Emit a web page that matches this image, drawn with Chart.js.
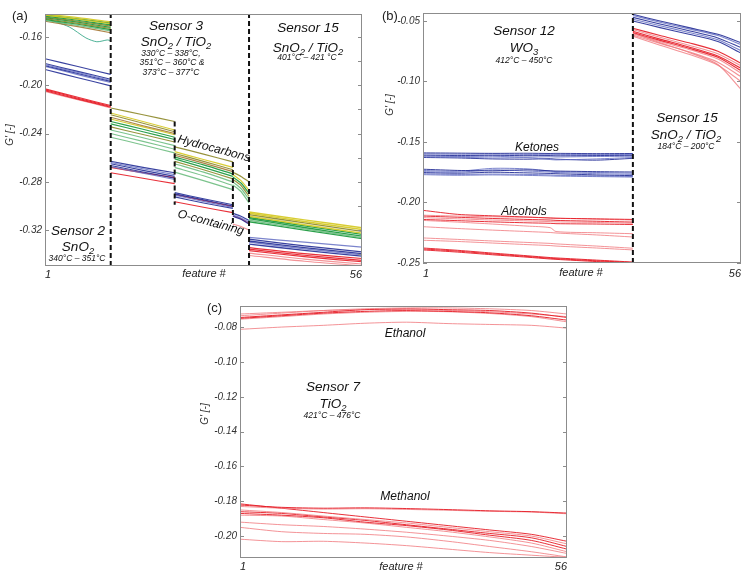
<!DOCTYPE html>
<html><head><meta charset="utf-8">
<script src="https://cdn.jsdelivr.net/npm/chart.js@4.4.1/dist/chart.umd.min.js"></script>
<style>
body{margin:0;width:749px;height:576px;background:#fff;position:relative;overflow:hidden;font-family:Arial,"Liberation Sans",sans-serif;}
.cv{position:absolute;}
.t{position:absolute;white-space:nowrap;font-style:italic;color:#111;transform:translate(-50%,-50%);line-height:1;}
.t sub{font-size:70%;vertical-align:-0.25em;line-height:0;}
.big{font-size:13.5px;}
.sm{font-size:8.5px;}
.mid{font-size:12px;}
.ax{font-size:10px;color:#333;}
.fx{font-size:11px;color:#222;}
.pl{position:absolute;font-size:13px;color:#222;line-height:1;}
</style></head><body>
<canvas id="ca" class="cv" width="375" height="285" style="left:0;top:0"></canvas>
<canvas id="cb" class="cv" width="371" height="285" style="left:378px;top:0"></canvas>
<canvas id="cc" class="cv" width="390" height="286" style="left:190px;top:290px"></canvas>

<div class="pl" style="left:12px;top:9px">(a)</div>
<div class="pl" style="left:382px;top:9px">(b)</div>
<div class="pl" style="left:207px;top:301px">(c)</div>

<div class="t ax" style="left:10px;top:135px;transform:translate(-50%,-50%) rotate(-90deg)">G' [-]</div>
<div class="t ax" style="left:390px;top:105px;transform:translate(-50%,-50%) rotate(-90deg)">G' [-]</div>
<div class="t ax" style="left:205px;top:414px;transform:translate(-50%,-50%) rotate(-90deg)">G' [-]</div>

<div class="t fx" style="left:204px;top:273px">feature #</div>
<div class="t fx" style="left:581px;top:272px">feature #</div>
<div class="t fx" style="left:401px;top:566px">feature #</div>

<div class="t big" style="left:176px;top:26px">Sensor 3</div>
<div class="t big" style="left:176px;top:42px">SnO<sub>2</sub> / TiO<sub>2</sub></div>
<div class="t sm" style="left:171px;top:53px">330°C – 338°C,</div>
<div class="t sm" style="left:172px;top:62px">351°C – 360°C &amp;</div>
<div class="t sm" style="left:171px;top:72px">373°C – 377°C</div>
<div class="t big" style="left:308px;top:28px">Sensor 15</div>
<div class="t big" style="left:308px;top:48px">SnO<sub>2</sub> / TiO<sub>2</sub></div>
<div class="t sm" style="left:307px;top:57px">401°C – 421 °C</div>
<div class="t big" style="left:78px;top:231px">Sensor 2</div>
<div class="t big" style="left:78px;top:247px">SnO<sub>2</sub></div>
<div class="t sm" style="left:77px;top:258px">340°C – 351°C</div>
<div class="t mid" style="left:214px;top:148px;transform:translate(-50%,-50%) rotate(15deg)">Hydrocarbons</div>
<div class="t mid" style="left:211px;top:222px;transform:translate(-50%,-50%) rotate(15deg)">O-containing</div>

<div class="t big" style="left:524px;top:31px">Sensor 12</div>
<div class="t big" style="left:524px;top:48px">WO<sub>3</sub></div>
<div class="t sm" style="left:524px;top:60px">412°C – 450°C</div>
<div class="t big" style="left:687px;top:118px">Sensor 15</div>
<div class="t big" style="left:686px;top:135px">SnO<sub>2</sub> / TiO<sub>2</sub></div>
<div class="t sm" style="left:686px;top:146px">184°C – 200°C</div>
<div class="t mid" style="left:537px;top:147px">Ketones</div>
<div class="t mid" style="left:524px;top:211px">Alcohols</div>

<div class="t big" style="left:333px;top:387px">Sensor 7</div>
<div class="t big" style="left:333px;top:404px">TiO<sub>2</sub></div>
<div class="t sm" style="left:332px;top:415px">421°C – 476°C</div>
<div class="t mid" style="left:405px;top:333px">Ethanol</div>
<div class="t mid" style="left:405px;top:496px">Methanol</div>

<script>
// ---------- tick labels ----------
const xTickLabels = [1, 56];
const yTicksA = [-0.32, -0.28, -0.24, -0.20, -0.16];
const yMinorA = [-0.34, -0.32, -0.30, -0.28, -0.26, -0.24, -0.22, -0.20, -0.18, -0.16];
const yTicksB = [-0.25, -0.20, -0.15, -0.10, -0.05];
const yTicksC = [-0.20, -0.18, -0.16, -0.14, -0.12, -0.10, -0.08];
const yRangeA = [-0.3497, -0.1410];
const yRangeB = [-0.2500, -0.0434];
const yRangeC = [-0.2126, -0.0679];

// ---------- panel (a) segments (feature #) ----------
const segBoundsA = [12.4, 23.5, 33.6, 36.4];
const shortDashA = [[23.5, -0.2300, -0.2990], [33.6, -0.2635, -0.3174]];
const xS2 = [1, 6.7, 12.4];
const xS2out = [1, 5.2, 8.1, 10, 11.8, 12.4];
const xS3a = [12.4, 18, 23.5];
const xS3b = [23.5, 28.5, 33.6];
const xS3c = [33.6, 35, 36.4];
const xS15a = [36.4, 46, 56];

const s2Hc = [
 [-0.1412,-0.1440,-0.1475],[-0.1420,-0.1452,-0.1490],[-0.1418,-0.1450,-0.1485],
 [-0.1428,-0.1462,-0.1500],[-0.1435,-0.1470,-0.1510],[-0.1440,-0.1478,-0.1520],
 [-0.1448,-0.1488,-0.1530],[-0.1455,-0.1495,-0.1540],[-0.1462,-0.1505,-0.1550],
 [-0.1470,-0.1515,-0.1565]];
const s2HcOut = [-0.1445,-0.1517,-0.1608,-0.1640,-0.1625,-0.1630];
const s2Blue = [
 [-0.1780,-0.1845,-0.1910],[-0.1820,-0.1885,-0.1950],[-0.1830,-0.1895,-0.1960],
 [-0.1838,-0.1903,-0.1968],[-0.1845,-0.1912,-0.1978],[-0.1870,-0.1938,-0.2005]];
const s2Red = [
 [-0.2030,-0.2100,-0.2168],[-0.2038,-0.2108,-0.2176],[-0.2045,-0.2115,-0.2183],[-0.2052,-0.2120,-0.2188]];

const s3aHc = [
 [-0.2188,-0.2245,-0.2300],[-0.2230,-0.2300,-0.2370],[-0.2245,-0.2315,-0.2385],
 [-0.2265,-0.2335,-0.2400],[-0.2280,-0.2345,-0.2410],[-0.2300,-0.2365,-0.2430],
 [-0.2320,-0.2385,-0.2450],[-0.2345,-0.2408,-0.2470],[-0.2370,-0.2435,-0.2500],
 [-0.2400,-0.2465,-0.2530],[-0.2430,-0.2495,-0.2560]];
const s3aBlue = [
 [-0.2630,-0.2680,-0.2725],[-0.2640,-0.2692,-0.2740],[-0.2650,-0.2705,-0.2755],
 [-0.2665,-0.2718,-0.2770],[-0.2675,-0.2728,-0.2780]];
const s3aRed = [[-0.2680,-0.2725,-0.2765],[-0.2725,-0.2770,-0.2815]];

const s3bHc = [
 [-0.2510,-0.2570,-0.2635],[-0.2550,-0.2615,-0.2680],[-0.2565,-0.2630,-0.2700],
 [-0.2580,-0.2645,-0.2715],[-0.2595,-0.2660,-0.2735],[-0.2610,-0.2680,-0.2755],
 [-0.2630,-0.2700,-0.2775],[-0.2650,-0.2720,-0.2800],[-0.2680,-0.2750,-0.2830],
 [-0.2720,-0.2790,-0.2865]];
const s3bBlue = [
 [-0.2890,-0.2940,-0.2990],[-0.2900,-0.2950,-0.3000],[-0.2910,-0.2962,-0.3012],[-0.2925,-0.2975,-0.3020]];
const s3bRed = [[-0.2905,-0.2955,-0.3005],[-0.2965,-0.3010,-0.3055]];

const s3cHc = [
 [-0.2720,-0.2755,-0.2800],[-0.2740,-0.2790,-0.2870],[-0.2760,-0.2810,-0.2895],
 [-0.2780,-0.2830,-0.2920],[-0.2800,-0.2855,-0.2945],[-0.2825,-0.2880,-0.2975]];
const s3cBlue = [[-0.3060,-0.3085,-0.3120],[-0.3075,-0.3100,-0.3135],[-0.3085,-0.3110,-0.3150]];
const s3cRed = [[-0.3080,-0.3105,-0.3145],[-0.3150,-0.3170,-0.3200]];

const s15aYellow = [
 [-0.3050,-0.3115,-0.3180],[-0.3060,-0.3128,-0.3195],[-0.3072,-0.3140,-0.3210],[-0.3085,-0.3155,-0.3225]];
const s15aGreen = [
 [-0.3095,-0.3165,-0.3235],[-0.3105,-0.3178,-0.3250],[-0.3118,-0.3190,-0.3262],[-0.3130,-0.3200,-0.3270]];
const s15aBlue = [
 [-0.3260,-0.3300,-0.3340],[-0.3275,-0.3330,-0.3380],[-0.3290,-0.3345,-0.3395],
 [-0.3300,-0.3355,-0.3405],[-0.3315,-0.3368,-0.3415]];
const s15aRed = [[-0.3345,-0.3395,-0.3435],[-0.3358,-0.3408,-0.3450],[-0.3370,-0.3420,-0.3462]];
const s15aPink = [[-0.3390,-0.3440,-0.3480],[-0.3410,-0.3458,-0.3495]];

// ---------- panel (b) ----------
const segBoundB = 37.3;
const xS12 = [1, 7, 13, 19, 23, 24, 31, 37.3];
const xS15b = [37.3, 42, 47, 52, 56];
const ketones = [
 [-0.1590,-0.1592,-0.1594,-0.1593,-0.1595,-0.1594,-0.1596,-0.1595],
 [-0.1598,-0.1601,-0.1600,-0.1603,-0.1602,-0.1603,-0.1604,-0.1603],
 [-0.1608,-0.1612,-0.1610,-0.1613,-0.1612,-0.1614,-0.1612,-0.1610],
 [-0.1615,-0.1620,-0.1618,-0.1625,-0.1622,-0.1624,-0.1620,-0.1618],
 [-0.1622,-0.1626,-0.1632,-0.1630,-0.1645,-0.1648,-0.1640,-0.1628],
 [-0.1628,-0.1632,-0.1640,-0.1642,-0.1638,-0.1642,-0.1650,-0.1635],
 [-0.1725,-0.1735,-0.1738,-0.1730,-0.1738,-0.1740,-0.1745,-0.1748],
 [-0.1735,-0.1742,-0.1718,-0.1722,-0.1740,-0.1745,-0.1752,-0.1758],
 [-0.1745,-0.1750,-0.1730,-0.1740,-0.1748,-0.1752,-0.1762,-0.1768],
 [-0.1752,-0.1758,-0.1750,-0.1755,-0.1760,-0.1762,-0.1772,-0.1778],
 [-0.1762,-0.1768,-0.1765,-0.1768,-0.1772,-0.1775,-0.1780,-0.1785],
 [-0.1770,-0.1775,-0.1772,-0.1776,-0.1780,-0.1782,-0.1786,-0.1790]];
const alcohols = [
 [-0.2065,-0.2098,-0.2110,-0.2120,-0.2128,-0.2130,-0.2135,-0.2140],
 [-0.2105,-0.2112,-0.2118,-0.2122,-0.2128,-0.2130,-0.2138,-0.2145],
 [-0.2112,-0.2122,-0.2132,-0.2140,-0.2145,-0.2148,-0.2155,-0.2162],
 [-0.2125,-0.2135,-0.2145,-0.2152,-0.2158,-0.2160,-0.2165,-0.2172],
 [-0.2140,-0.2150,-0.2160,-0.2168,-0.2172,-0.2175,-0.2178,-0.2182],
 [-0.2148,-0.2162,-0.2178,-0.2195,-0.2208,-0.2240,-0.2250,-0.2258],
 [-0.2200,-0.2215,-0.2228,-0.2240,-0.2248,-0.2252,-0.2268,-0.2285],
 [-0.2293,-0.2305,-0.2318,-0.2330,-0.2338,-0.2342,-0.2360,-0.2378],
 [-0.2312,-0.2322,-0.2335,-0.2348,-0.2356,-0.2360,-0.2376,-0.2392],
 [-0.2376,-0.2395,-0.2418,-0.2440,-0.2455,-0.2458,-0.2476,-0.2492],
 [-0.2384,-0.2402,-0.2425,-0.2446,-0.2461,-0.2464,-0.2482,-0.2496],
 [-0.2392,-0.2410,-0.2432,-0.2452,-0.2467,-0.2470,-0.2488,-0.2500]];
const s15bBlue = [
 [-0.0445,-0.0500,-0.0555,-0.0610,-0.0680],[-0.0455,-0.0510,-0.0565,-0.0620,-0.0695],
 [-0.0470,-0.0525,-0.0580,-0.0640,-0.0720],[-0.0485,-0.0540,-0.0595,-0.0655,-0.0745],
 [-0.0500,-0.0555,-0.0610,-0.0670,-0.0765]];
const s15bRed = [
 [-0.0560,-0.0620,-0.0680,-0.0750,-0.0850],[-0.0570,-0.0635,-0.0700,-0.0770,-0.0870],
 [-0.0585,-0.0650,-0.0715,-0.0790,-0.0890],[-0.0595,-0.0660,-0.0725,-0.0800,-0.0910],
 [-0.0605,-0.0670,-0.0735,-0.0815,-0.0930],[-0.0615,-0.0685,-0.0755,-0.0840,-0.0960],
 [-0.0625,-0.0700,-0.0775,-0.0865,-0.1000],[-0.0600,-0.0680,-0.0760,-0.0860,-0.1065]];

// ---------- panel (c) ----------
const xS7 = [1, 8, 15, 22, 29, 36, 43, 50, 56];
const ethanol = [
 [-0.0735,-0.0720,-0.0705,-0.0695,-0.0690,-0.0690,-0.0695,-0.0705,-0.0725],
 [-0.0745,-0.0730,-0.0715,-0.0700,-0.0695,-0.0700,-0.0705,-0.0720,-0.0745],
 [-0.0725,-0.0715,-0.0705,-0.0700,-0.0700,-0.0705,-0.0712,-0.0725,-0.0740],
 [-0.0750,-0.0735,-0.0720,-0.0710,-0.0705,-0.0710,-0.0718,-0.0735,-0.0760],
 [-0.0755,-0.0740,-0.0725,-0.0715,-0.0710,-0.0712,-0.0722,-0.0740,-0.0770],
 [-0.0813,-0.0800,-0.0790,-0.0778,-0.0772,-0.0780,-0.0785,-0.0790,-0.0806]];
const methanol = [
 [-0.1822,-0.1835,-0.1840,-0.1838,-0.1842,-0.1848,-0.1855,-0.1860,-0.1868],
 [-0.1830,-0.1840,-0.1845,-0.1843,-0.1847,-0.1852,-0.1858,-0.1862,-0.1872],
 [-0.1815,-0.1840,-0.1865,-0.1890,-0.1915,-0.1940,-0.1965,-0.1990,-0.2030],
 [-0.1850,-0.1865,-0.1885,-0.1905,-0.1925,-0.1950,-0.1975,-0.2000,-0.2045],
 [-0.1860,-0.1870,-0.1890,-0.1910,-0.1935,-0.1960,-0.1985,-0.2010,-0.2060],
 [-0.1870,-0.1880,-0.1895,-0.1920,-0.1940,-0.1965,-0.1995,-0.2025,-0.2075],
 [-0.1880,-0.1885,-0.1905,-0.1925,-0.1950,-0.1975,-0.2005,-0.2040,-0.2090],
 [-0.1920,-0.1935,-0.1945,-0.1960,-0.1978,-0.2000,-0.2025,-0.2060,-0.2100],
 [-0.1950,-0.1975,-0.1985,-0.1990,-0.2005,-0.2030,-0.2060,-0.2090,-0.2120],
 [-0.2018,-0.2032,-0.2030,-0.2040,-0.2055,-0.2075,-0.2095,-0.2110,-0.2122]];

// ---------- colours ----------
const C = {
  yel:'rgba(212,200,30,0.9)', olv:'rgba(140,135,40,0.9)', brn:'rgba(160,110,40,0.85)',
  grn:'rgba(20,150,55,0.9)', lgr:'rgba(100,185,120,0.85)', teal:'rgba(60,170,140,0.9)',
  blu:'rgba(35,45,150,0.9)', lbl:'rgba(100,110,195,0.85)',
  red:'rgba(230,25,35,0.9)', pnk:'rgba(240,120,125,0.8)'
};
const FONT = 'Arial, "Liberation Sans", sans-serif';

function group(list, xs, rows, colors, w) {
  rows.forEach((r, i) => list.push({
    data: r.map((v, j) => ({x: xs[j], y: v})),
    borderColor: colors[i % colors.length], borderWidth: w || 1,
    pointRadius: 0, tension: 0.25, fill: false, order: 1
  }));
}
function dash(list, x, y0, y1) {
  list.push({data: [{x: x, y: y0}, {x: x, y: y1}], borderColor: '#111', borderWidth: 2,
    borderDash: [5, 3], pointRadius: 0, fill: false, order: -1});
}

const frame = {
  id: 'frame',
  afterDraw(chart, args, opts) {
    const {ctx, chartArea: a, scales} = chart;
    ctx.save();
    ctx.strokeStyle = '#8c8c8c'; ctx.lineWidth = 1;
    ctx.strokeRect(Math.round(a.left) + 0.5, Math.round(a.top) + 0.5,
      Math.round(a.right - a.left) - 1, Math.round(a.bottom - a.top) - 1);
    ctx.beginPath();
    (opts.left || []).forEach(v => {
      const y = Math.round(scales.y.getPixelForValue(v)) + 0.5;
      ctx.moveTo(a.left, y); ctx.lineTo(a.left + 4, y);
    });
    (opts.right || []).forEach(v => {
      const y = Math.round(scales.y.getPixelForValue(v)) + 0.5;
      ctx.moveTo(a.right - 4, y); ctx.lineTo(a.right, y);
    });
    ctx.stroke();
    ctx.restore();
  }
};

function makeChart(id, datasets, yRange, yTicks, rightTicks, yw, xh, pad, xpad) {
  return new Chart(document.getElementById(id), {
    type: 'line',
    data: {datasets},
    plugins: [frame],
    options: {
      responsive: false, animation: false, devicePixelRatio: 1,
      layout: {padding: pad},
      plugins: {legend: {display: false}, tooltip: {enabled: false}, frame: {left: yTicks, right: rightTicks}},
      scales: {
        x: {type: 'linear', min: 1, max: 56,
          grid: {display: false, drawTicks: false}, border: {display: false},
          afterBuildTicks: s => { s.ticks = xTickLabels.map(v => ({value: v})); },
          afterFit: s => { s.height = xh; },
          ticks: {align: 'inner', padding: xpad, maxRotation: 0, autoSkip: false, color: '#222',
            font: {size: 11, style: 'italic', family: FONT}, callback: v => String(v)}},
        y: {type: 'linear', min: yRange[0], max: yRange[1],
          grid: {display: false, drawTicks: false}, border: {display: false},
          afterBuildTicks: s => { s.ticks = yTicks.map(v => ({value: v})); },
          afterFit: s => { s.width = yw; },
          ticks: {padding: 3, autoSkip: false, color: '#333',
            font: {size: 10, style: 'italic', family: FONT}, callback: v => v.toFixed(2)}}
      }
    }
  });
}

// panel (a)
const dA = [];
group(dA, xS2, s2Hc, [C.yel, C.yel, C.grn, C.grn, C.olv, C.grn, C.olv, C.grn, C.lgr, C.brn], 1.2);
group(dA, xS2out, [s2HcOut], [C.teal], 1);
group(dA, xS2, s2Blue, [C.blu, C.blu, C.lbl, C.blu, C.lbl, C.blu], 1.1);
group(dA, xS2, s2Red, [C.red, C.red, C.red, C.pnk], 1.1);
group(dA, xS3a, s3aHc, [C.olv, C.yel, C.olv, C.brn, C.yel, C.grn, C.grn, C.olv, C.lgr, C.lgr, C.lgr], 1.1);
group(dA, xS3a, s3aBlue, [C.blu, C.lbl, C.blu, C.blu, C.lbl], 1.1);
group(dA, xS3a, s3aRed, [C.red, C.red], 1.1);
group(dA, xS3b, s3bHc, [C.olv, C.yel, C.olv, C.brn, C.grn, C.grn, C.olv, C.lgr, C.lgr, C.lgr], 1.2);
group(dA, xS3b, s3bBlue, [C.blu, C.blu, C.lbl, C.blu], 1.2);
group(dA, xS3b, s3bRed, [C.red, C.red], 1.1);
group(dA, xS3c, s3cHc, [C.olv, C.yel, C.grn, C.olv, C.lgr, C.lgr], 1.2);
group(dA, xS3c, s3cBlue, [C.blu, C.lbl, C.blu], 1.2);
group(dA, xS3c, s3cRed, [C.red, C.pnk], 1.1);
group(dA, xS15a, s15aYellow, [C.yel, C.yel, C.olv, C.yel], 1.4);
group(dA, xS15a, s15aGreen, [C.grn, C.grn, C.lgr, C.grn], 1.4);
group(dA, xS15a, s15aBlue, [C.lbl, C.blu, C.blu, C.lbl, C.blu], 1.3);
group(dA, xS15a, s15aRed, [C.red, C.red, C.red], 1.2);
group(dA, xS15a, s15aPink, [C.pnk, C.pnk], 1.1);
dash(dA, segBoundsA[0], yRangeA[0], yRangeA[1]);
dash(dA, segBoundsA[3], yRangeA[0], yRangeA[1]);
shortDashA.forEach(s => dash(dA, s[0], s[1], s[2]));
makeChart('ca', dA, yRangeA, yTicksA, yMinorA, 45, 19, {top: 14, right: 13, left: 0, bottom: 0}, 2);

// panel (b)
const dB = [];
group(dB, xS12, ketones, [C.blu, C.lbl, C.blu, C.lbl, C.lbl, C.blu, C.blu, C.lbl, C.lbl, C.blu, C.lbl, C.lbl], 1);
group(dB, xS12, alcohols, [C.red, C.pnk, C.red, C.pnk, C.red, C.pnk, C.pnk, C.pnk, C.pnk, C.red, C.red, C.red], 1);
group(dB, xS15b, s15bBlue, [C.blu, C.lbl, C.blu, C.lbl, C.blu], 1.1);
group(dB, xS15b, s15bRed, [C.red, C.pnk, C.red, C.red, C.pnk, C.pnk, C.pnk, C.pnk], 1.1);
dash(dB, segBoundB, yRangeB[0], yRangeB[1]);
makeChart('cb', dB, yRangeB, yTicksB, yTicksB, 45, 22, {top: 13, right: 8, left: 0, bottom: 0}, 4);

// panel (c)
const dC = [];
group(dC, xS7, ethanol, [C.pnk, C.red, C.pnk, C.red, C.pnk, C.pnk], 1);
group(dC, xS7, methanol, [C.red, C.pnk, C.red, C.pnk, C.red, C.red, C.pnk, C.pnk, C.pnk, C.pnk], 1);
makeChart('cc', dC, yRangeC, yTicksC, yTicksC, 50, 18, {top: 16, right: 13, left: 0, bottom: 0}, 2);
</script>
</body></html>
